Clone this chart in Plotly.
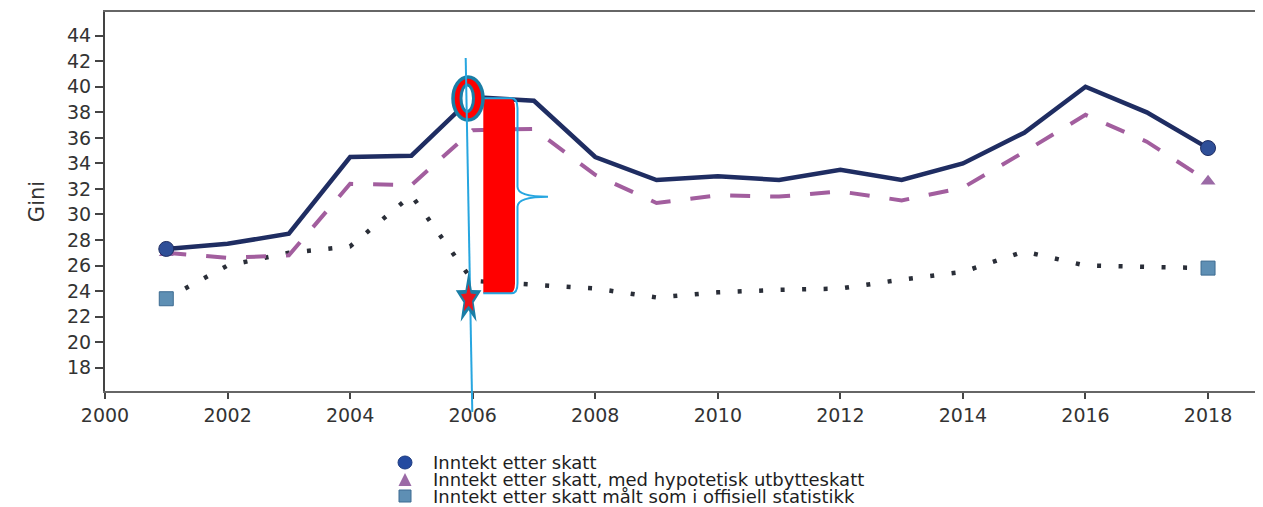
import math
import plotly.graph_objects as go

# ---------------- data ----------------
YEARS = list(range(2001, 2019))
INNTEKT = [27.3, 27.7, 28.5, 34.5, 34.6, 39.2, 38.9, 34.5, 32.7, 33.0,
           32.7, 33.5, 32.7, 34.0, 36.4, 40.0, 38.0, 35.2]
HYPOTETISK = [27.0, 26.6, 26.8, 32.4, 32.3, 36.6, 36.7, 33.1, 30.9, 31.5,
              31.4, 31.8, 31.1, 32.1, 34.9, 37.8, 35.7, 32.6]
OFFISIELL = [23.4, 26.0, 27.0, 27.5, 31.5, 24.8, 24.5, 24.2, 23.5, 23.9,
             24.1, 24.2, 24.9, 25.5, 27.1, 26.0, 25.9, 25.8]
SERIES_NAMES = [
    "Inntekt etter skatt",
    "Inntekt etter skatt, med hypotetisk utbytteskatt",
    "Inntekt etter skatt målt som i offisiell statistikk",
]
X_TICKS = list(range(2000, 2019, 2))
Y_TICKS = list(range(18, 45, 2))
Y_LABEL = "Gini"

# ---------------- layout geometry ----------------
OFF = 8                      # default page margin of the html body
SCR_W, SCR_H = 1263, 507
PL, PT, PR, PB = 105, 12, 1263, 391   # plot area in screen pixels
PW, PH = PR - PL, PB - PT
W, H = SCR_W - OFF, SCR_H - OFF
ML, MT = PL - OFF, PT - OFF
MR = W - (PR - OFF)
MB = H - (PB - OFF)
X_RANGE = [2000, 2000 + PW / 61.28]
Y_RANGE = [16.175, 16.175 + PH / 12.769]

FONT = "DejaVu Sans, Liberation Sans, Arial, sans-serif"
C_SOLID = "#1f2d62"
C_DASH = "#a25e9e"
C_DOT = "#2a2e38"
C_TEAL = "#1a7ea6"
C_LBLUE = "#27a6e0"
C_RED = "#ff0000"


def dx(px):
    return X_RANGE[0] + (px - PL) / PW * (X_RANGE[1] - X_RANGE[0])


def dy(py):
    return Y_RANGE[0] + (PB - py) / PH * (Y_RANGE[1] - Y_RANGE[0])


def ppx(px):
    return (px - PL) / PW


def ppy(py):
    return (PB - py) / PH


fig = go.Figure()

# lines
fig.add_trace(go.Scatter(x=YEARS, y=OFFISIELL, mode="lines", showlegend=False,
                         line=dict(color=C_DOT, width=4.5, dash="4px,17.5px")))
fig.add_trace(go.Scatter(x=YEARS, y=HYPOTETISK, mode="lines", showlegend=False,
                         line=dict(color=C_DASH, width=4, dash="20px,20px")))
fig.add_trace(go.Scatter(x=YEARS, y=INNTEKT, mode="lines", showlegend=False,
                         line=dict(color=C_SOLID, width=4.5)))

# end markers
fig.add_trace(go.Scatter(x=[YEARS[0], YEARS[-1]], y=[OFFISIELL[0], OFFISIELL[-1]],
                         mode="markers", showlegend=False,
                         marker=dict(symbol="square", size=14, color="#5e8fb4",
                                     line=dict(color="#3d6b91", width=1))))
fig.add_trace(go.Scatter(x=[YEARS[0], YEARS[-1]], y=[HYPOTETISK[0], HYPOTETISK[-1]],
                         mode="markers", showlegend=False,
                         marker=dict(symbol="triangle-up", size=13, color="#9b6aa6")))
fig.add_trace(go.Scatter(x=[YEARS[0], YEARS[-1]], y=[INNTEKT[0], INNTEKT[-1]],
                         mode="markers", showlegend=False,
                         marker=dict(symbol="circle", size=15, color="#2f4f98",
                                     line=dict(color=C_SOLID, width=1))))

shapes = []

# red bar with brace
x0, x1, xb, xt = dx(483.3), dx(515), dx(517.5), dx(548)
yt, yb, ym = dy(98.3), dy(293.3), dy(196.7)
r_x, r_y = dx(521) - dx(515), dy(290) - dy(300)
bar_path = (f"M {x0},{yt} L {x1 - r_x},{yt} Q {x1},{yt} {x1},{yt - r_y} "
            f"L {x1},{yb + r_y} Q {x1},{yb} {x1 - r_x},{yb} L {x0},{yb} Z")
shapes.append(dict(type="path", xref="x", yref="y", path=bar_path,
                   fillcolor=C_RED, line=dict(width=0), layer="above"))
brace_path = (f"M {x0},{yt} L {xb - r_x},{yt} Q {xb},{yt} {xb},{yt - r_y} "
              f"L {xb},{ym + r_y} Q {xb},{ym} {xt},{ym} "
              f"Q {xb},{ym} {xb},{ym - r_y} L {xb},{yb + r_y} "
              f"Q {xb},{yb} {xb - r_x},{yb} L {x0},{yb}")
shapes.append(dict(type="path", xref="x", yref="y", path=brace_path,
                   line=dict(color=C_LBLUE, width=2), layer="above"))

# ellipse around 2006 peak
shapes.append(dict(type="circle", xref="x", yref="y",
                   x0=dx(453), x1=dx(483), y0=dy(120), y1=dy(77),
                   fillcolor=C_RED, line=dict(color=C_TEAL, width=3.5), layer="above"))
shapes.append(dict(type="circle", xref="x", yref="y",
                   x0=dx(461), x1=dx(473.5), y0=dy(111.5), y1=dy(85),
                   fillcolor="white", line=dict(color=C_TEAL, width=3), layer="above"))

# slanted vertical guide line
shapes.append(dict(type="line", xref="x", yref="paper",
                   x0=dx(465.7), y0=ppy(58), x1=dx(472.3), y1=ppy(412),
                   line=dict(color=C_LBLUE, width=2), layer="above"))


def star_path(cx_px, cy_px, rx_px, ry_px, ratio):
    pts = []
    for k in range(10):
        ang = math.radians(90 - 36 * k)
        f = 1.0 if k % 2 == 0 else ratio
        pts.append((dx(cx_px + f * rx_px * math.cos(ang)),
                    dy(cy_px - f * ry_px * math.sin(ang))))
    return "M " + " L ".join(f"{a},{b}" for a, b in pts) + " Z"


shapes.append(dict(type="path", xref="x", yref="y",
                   path=star_path(468.6, 299.0, 13.5, 28.0, 0.40),
                   fillcolor=C_TEAL, line=dict(width=0), layer="above"))
shapes.append(dict(type="path", xref="x", yref="y",
                   path=star_path(468.6, 299.0, 8.0, 15.0, 0.45),
                   fillcolor="#e8141c", line=dict(width=0), layer="above"))

# legend symbols
shapes.append(dict(type="circle", xref="paper", yref="paper",
                   x0=ppx(398), x1=ppx(412), y0=ppy(469), y1=ppy(456),
                   fillcolor="#244aa0", line=dict(color="#1c3a80", width=1)))
shapes.append(dict(type="path", xref="paper", yref="paper",
                   path=(f"M {ppx(398.5)},{ppy(486)} L {ppx(411.5)},{ppy(486)} "
                         f"L {ppx(405)},{ppy(473)} Z"),
                   fillcolor="#9b6aa6", line=dict(width=0)))
shapes.append(dict(type="rect", xref="paper", yref="paper",
                   x0=ppx(399), x1=ppx(411), y0=ppy(502), y1=ppy(490),
                   fillcolor="#5e8fb4", line=dict(color="#3d6b91", width=1)))

annotations = []
for name, py in zip(SERIES_NAMES, [462, 479, 496]):
    annotations.append(dict(text=name, xref="paper", yref="paper",
                            x=ppx(432), y=ppy(py), xanchor="left", yanchor="middle",
                            showarrow=False, borderpad=0,
                            font=dict(family=FONT, size=18, color="#1e1e1e")))

fig.update_layout(
    width=W, height=H,
    margin=dict(l=ML, r=MR, t=MT, b=MB, pad=0),
    paper_bgcolor="white", plot_bgcolor="white",
    showlegend=False,
    shapes=shapes, annotations=annotations,
    font=dict(family=FONT, color="#333333"),
    xaxis=dict(range=X_RANGE, tickmode="array", tickvals=X_TICKS,
               ticks="outside", ticklen=6, tickwidth=2, tickcolor="#444",
               showline=True, linecolor="#666", linewidth=2, mirror=True,
               showgrid=False, zeroline=False,
               tickfont=dict(family=FONT, size=19, color="#333")),
    yaxis=dict(range=Y_RANGE, tickmode="array", tickvals=Y_TICKS,
               ticks="outside", ticklen=8, tickwidth=2, tickcolor="#444",
               showline=True, linecolor="#444", linewidth=2, mirror=False,
               showgrid=False, zeroline=False,
               tickfont=dict(family=FONT, size=19, color="#333"),
               title=dict(text=Y_LABEL, standoff=17,
                          font=dict(family=FONT, size=21, color="#333"))),
)

fig.write_html("out.html")
